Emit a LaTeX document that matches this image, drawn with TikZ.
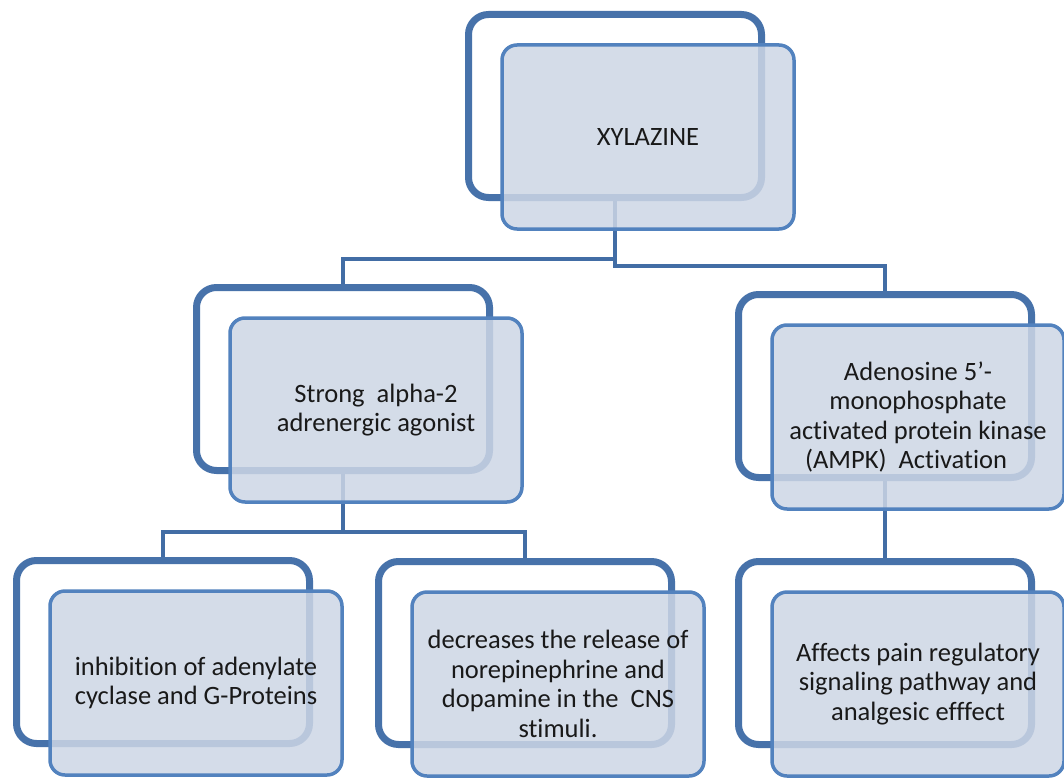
\documentclass[tikz,border=0pt]{standalone}
\usepackage{fontspec}
\setmainfont{Carlito}[Ligatures=NoCommon]
\usetikzlibrary{shadows}
\definecolor{backline}{RGB}{71,114,170}
\definecolor{frontline}{RGB}{82,130,190}
\definecolor{frontfill}{RGB}{205,214,229}
\definecolor{linkcol}{RGB}{66,109,165}
\definecolor{txt}{RGB}{25,25,25}
\begin{document}
\begin{tikzpicture}[x=1pt,y=-1pt,
 backbox/.style={draw=backline, line width=7pt, rounded corners=20pt, fill=white,
   minimum width=293pt, minimum height=183pt, inner sep=0pt,
   drop shadow={shadow xshift=1.5pt, shadow yshift=-2pt, opacity=0.25}},
 frontbox/.style={draw=frontline, line width=3.5pt, rounded corners=15pt, fill=frontfill,
   fill opacity=0.85, text opacity=1, minimum width=292pt, minimum height=184pt,
   inner sep=0pt, align=center, text=txt, font=\fontsize{26.5}{29.5}\selectfont},
 link/.style={draw=linkcol, line width=4pt}]
\useasboundingbox (0,0) rectangle (1064,778);
% back boxes
\node[backbox] (top)  at (615,106) {};
\node[backbox] (midL) at (343,379) {};
\node[backbox] (midR) at (885,386) {};
\node[backbox] (botL) at (163,652) {};
\node[backbox] (botM) at (525,653) {};
\node[backbox] (botR) at (885,653) {};
% connectors
\draw[link] (top.south) -- ++(0,58) -| (midL.north);
\draw[link] (top.south) -- ++(0,65) -| (midR.north);
\draw[link] (midL.south) -- ++(0,58) -| (botL.north);
\draw[link] (midL.south) -- ++(0,58) -| (botM.north);
\draw[link] (midR.south) -- (botR.north);
% front boxes
\node[frontbox] (topF)  at (648,137) {XYLAZINE};
\node[frontbox] (midLF) at (376,410) {Strong\ \ alpha-2\\adrenergic agonist};
\node[frontbox] (midRF) at (918,417) {Adenosine 5’-\\monophosphate\\activated protein kinase\\(AMPK)\ \ Activation\hspace*{24pt}};
\node[frontbox] (botLF) at (196,683) {inhibition of adenylate\\cyclase and G-Proteins};
\node[frontbox] (botMF) at (558,684) {decreases the release of\\norepinephrine and\\dopamine in the\ \ CNS\\stimuli.};
\node[frontbox] (botRF) at (918,684) {Affects pain regulatory\\signaling pathway and\\analgesic efffect};
\end{tikzpicture}
\end{document}
